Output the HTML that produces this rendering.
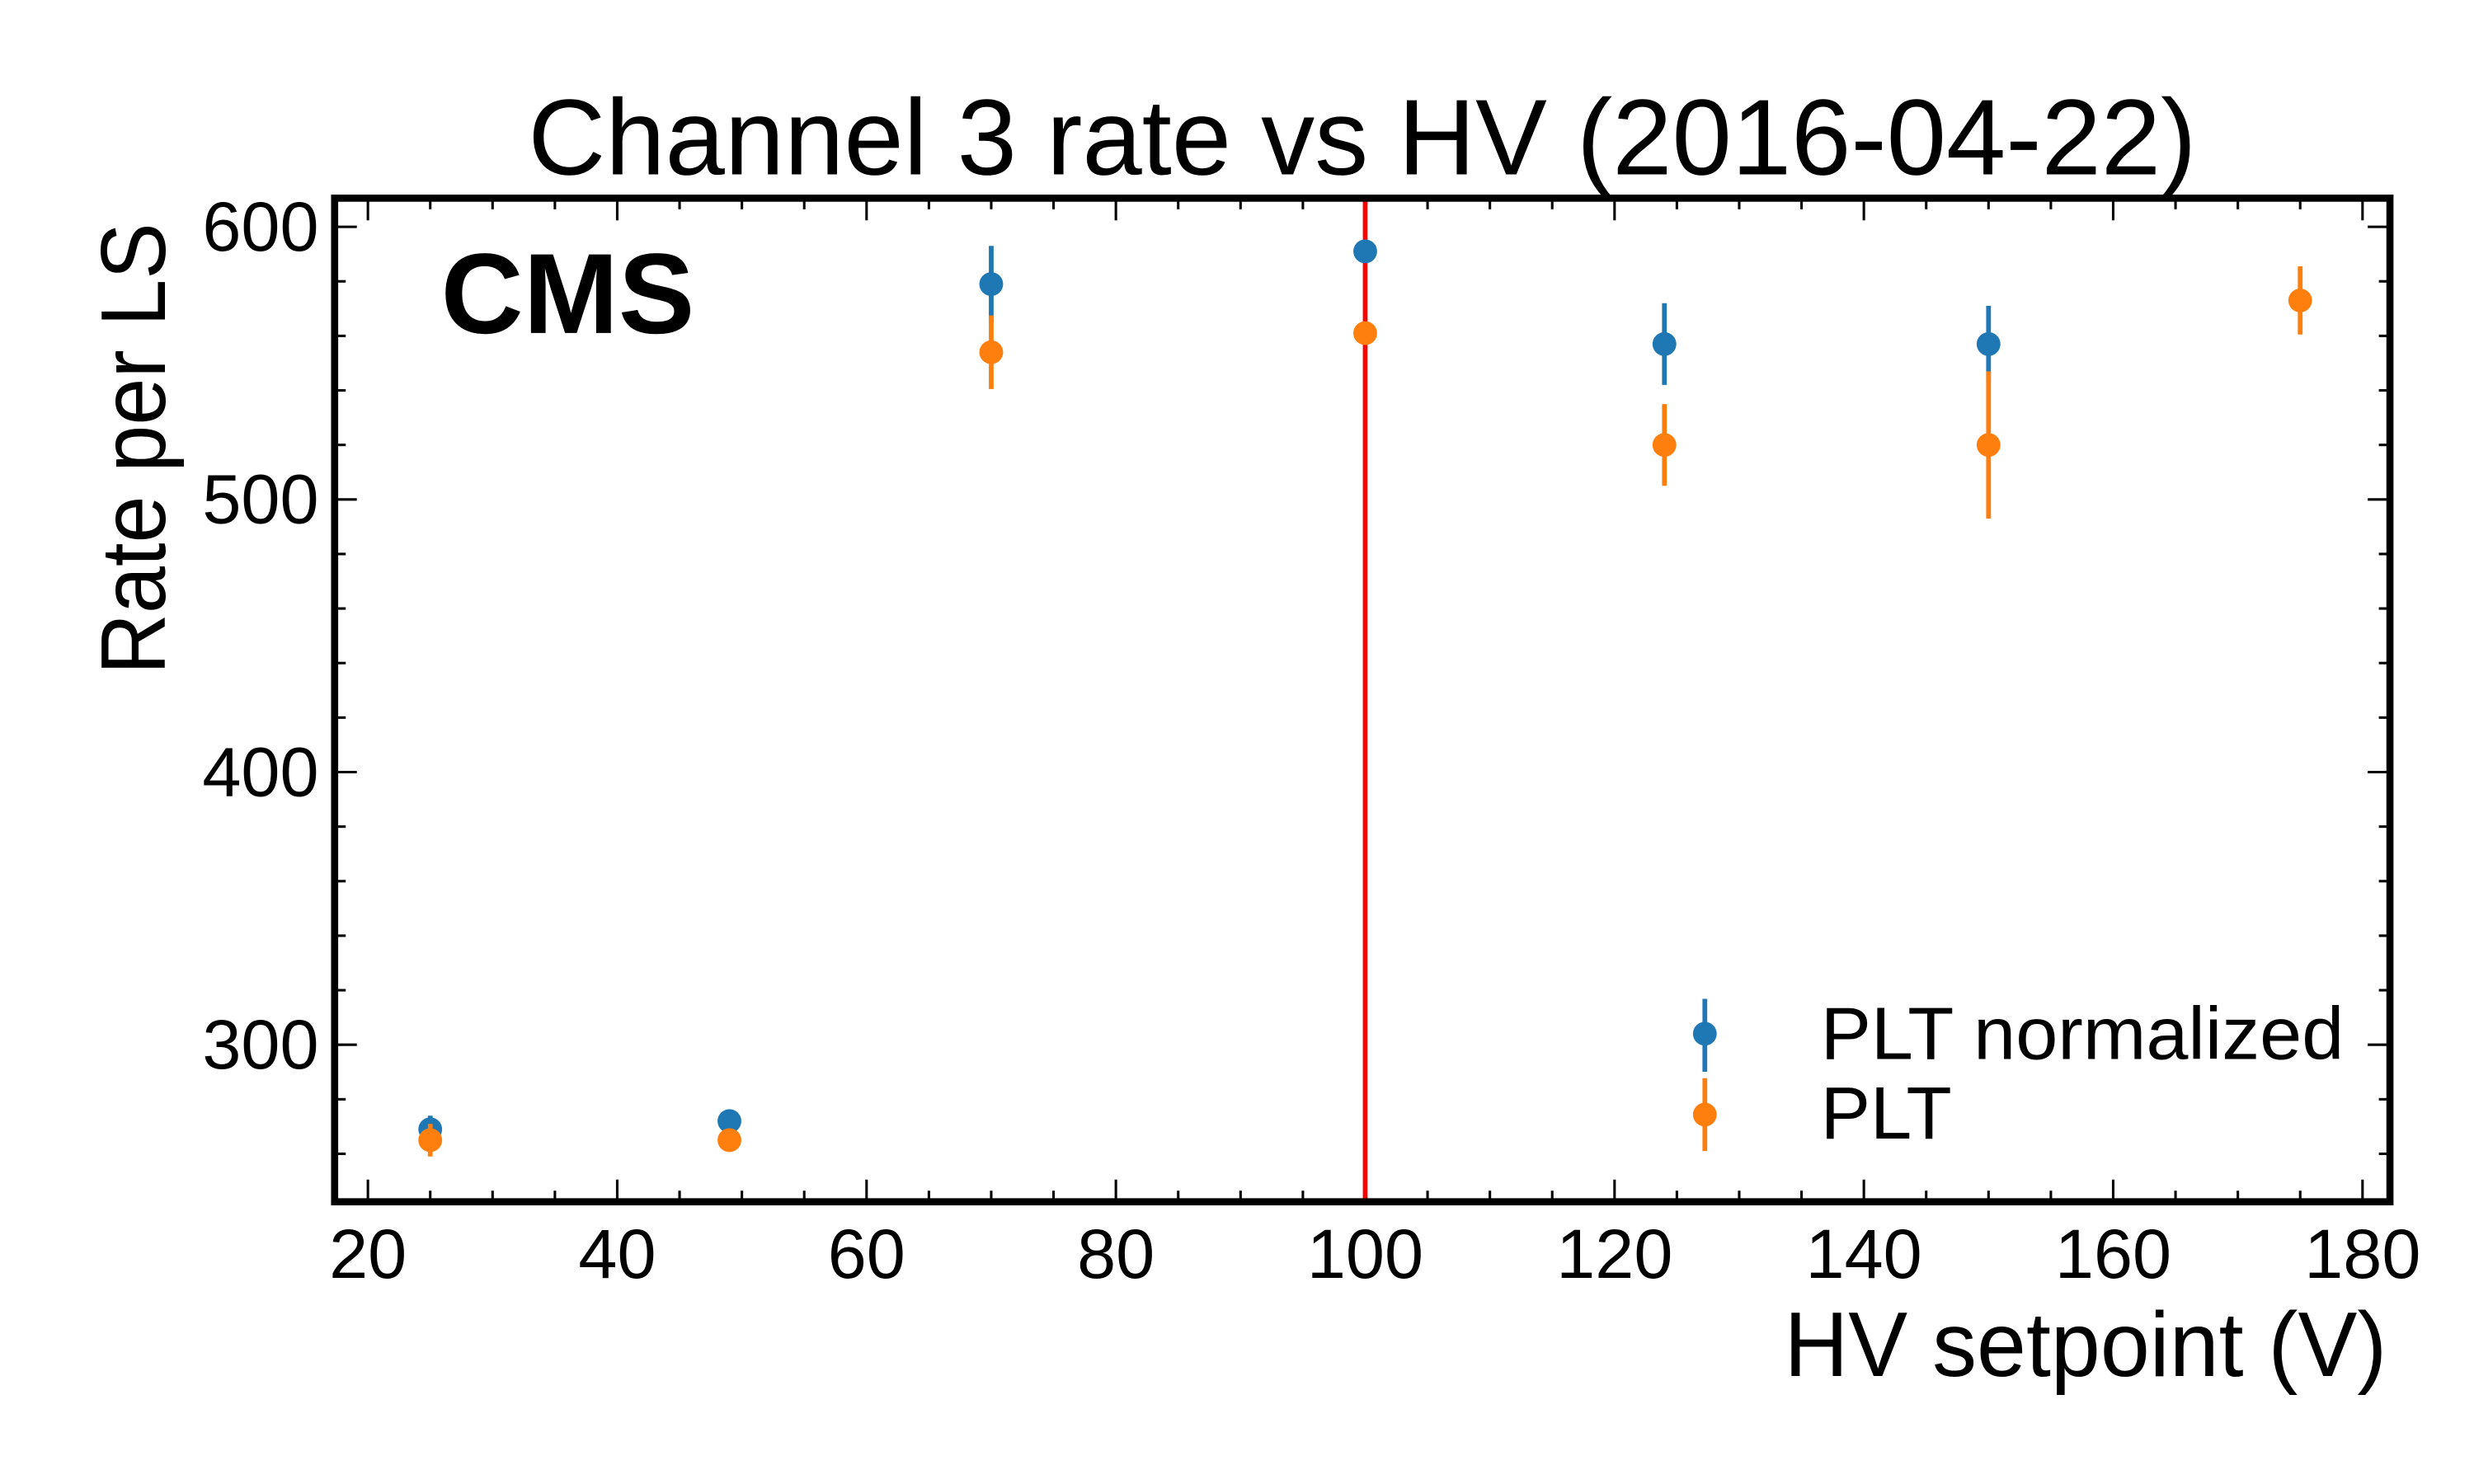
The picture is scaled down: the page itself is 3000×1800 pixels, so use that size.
<!DOCTYPE html>
<html><head><meta charset="utf-8"><style>
html,body{margin:0;padding:0;background:#fff}
svg{display:block}
text{font-family:"Liberation Sans",Arial,sans-serif;fill:#000}
</style></head><body>
<svg id="chart" xmlns="http://www.w3.org/2000/svg" width="3000" height="1800" viewBox="0 0 1560 936">
<rect x="0" y="0" width="1560" height="936" fill="#fff"/>
<text x="859" y="110" font-size="68" text-anchor="middle" textLength="1052" lengthAdjust="spacingAndGlyphs">Channel 3 rate vs HV (2016-04-22)</text>
<g id="ticks"></g>
<g id="marks"></g>
<rect x="211" y="125" width="1296" height="633" fill="none" stroke="#000" stroke-width="4.5"/>
<text x="278" y="210" font-size="72" font-weight="bold" textLength="160" lengthAdjust="spacingAndGlyphs">CMS</text>
<text x="1505" y="868" font-size="58" text-anchor="end" textLength="380" lengthAdjust="spacingAndGlyphs">HV setpoint (V)</text>
<text transform="translate(104,283) rotate(-90)" font-size="58" text-anchor="middle" textLength="285" lengthAdjust="spacingAndGlyphs">Rate per LS</text>
<g>
<line x1="1075" y1="630" x2="1075" y2="676" stroke="#1f77b4" stroke-width="3"/>
<circle cx="1075" cy="652" r="7.5" fill="#1f77b4"/>
<text x="1148" y="668" font-size="47" textLength="330" lengthAdjust="spacingAndGlyphs">PLT normalized</text>
<line x1="1075" y1="680" x2="1075" y2="726" stroke="#ff7f0e" stroke-width="3"/>
<circle cx="1075" cy="703" r="7.5" fill="#ff7f0e"/>
<text x="1148" y="718" font-size="47">PLT</text>
</g>
</svg>
<script>
const hvNorm = [25, 49, 70, 100, 124, 150];
const rateNorm = [269, 272, 579, 591, 557, 557];
const errNorm = [5, 2, 14, 2, 15, 14];
const hvPlt = [25, 49, 70, 100, 124, 150, 175];
const ratePlt = [265, 265, 554, 561, 520, 520, 573];
const errPlt = [6, 2, 13.5, 2, 15, 27, 12.5];
const xTicks = [20, 40, 60, 80, 100, 120, 140, 160, 180];
const yTicks = [300, 400, 500, 600];
const vline = [100];

const NS = 'http://www.w3.org/2000/svg';
const L = 211, R = 1507, T = 125, B = 758;
const X0 = 17.33, X1 = 182.2, Y0 = 242.4, Y1 = 610.5;
function sx(v){ return L + (v - X0) / (X1 - X0) * (R - L); }
function sy(v){ return B - (v - Y0) / (Y1 - Y0) * (B - T); }
function mk(tag, attrs, parent){
  const e = document.createElementNS(NS, tag);
  for (const k in attrs) e.setAttribute(k, attrs[k]);
  parent.appendChild(e);
  return e;
}
const tg = document.getElementById('ticks');
const mg = document.getElementById('marks');
for (let v = 20; v <= 180; v += 5) {
  const major = v % 20 === 0;
  const len = major ? 14 : 7;
  const x = sx(v);
  let t = mk('line', {x1:x, y1:B, x2:x, y2:B-len, stroke:'#000', 'stroke-width':1.6}, tg);
  
  
  t = mk('line', {x1:x, y1:T, x2:x, y2:T+len, stroke:'#000', 'stroke-width':1.6}, tg);
  
  
}
for (let v = 260; v <= 600; v += 20) {
  const major = v % 100 === 0;
  const len = major ? 14 : 7;
  const y = sy(v);
  let t = mk('line', {x1:L, y1:y, x2:L+len, y2:y, stroke:'#000', 'stroke-width':1.6}, tg);
  
  
  t = mk('line', {x1:R, y1:y, x2:R-len, y2:y, stroke:'#000', 'stroke-width':1.6}, tg);
  
  
}
xTicks.forEach(v => {
  const t = mk('text', {x:sx(v), y:806, 'font-size':44, 'text-anchor':'middle'}, tg);
  t.textContent = v;
  
  
});
yTicks.forEach(v => {
  const t = mk('text', {x:201, y:sy(v)+15, 'font-size':44, 'text-anchor':'end'}, tg);
  t.textContent = v;
  
  
});
vline.forEach(v => {
  const l = mk('line', {x1:sx(v), y1:T, x2:sx(v), y2:B, stroke:'#ff0000', 'stroke-width':3}, mg);
  
  
});
function series(xs, ys, es, color, name){
  xs.forEach((xv, i) => {
    const x = sx(xv);
    const eb = mk('line', {x1:x, y1:sy(ys[i]-es[i]), x2:x, y2:sy(ys[i]+es[i]), stroke:color, 'stroke-width':3}, mg);
    
    
    const c = mk('circle', {cx:x, cy:sy(ys[i]), r:7.5, fill:color}, mg);
    
    
  });
}
series(hvNorm, rateNorm, errNorm, '#1f77b4', 'plt-normalized');
series(hvPlt, ratePlt, errPlt, '#ff7f0e', 'plt');
</script>
</body></html>
